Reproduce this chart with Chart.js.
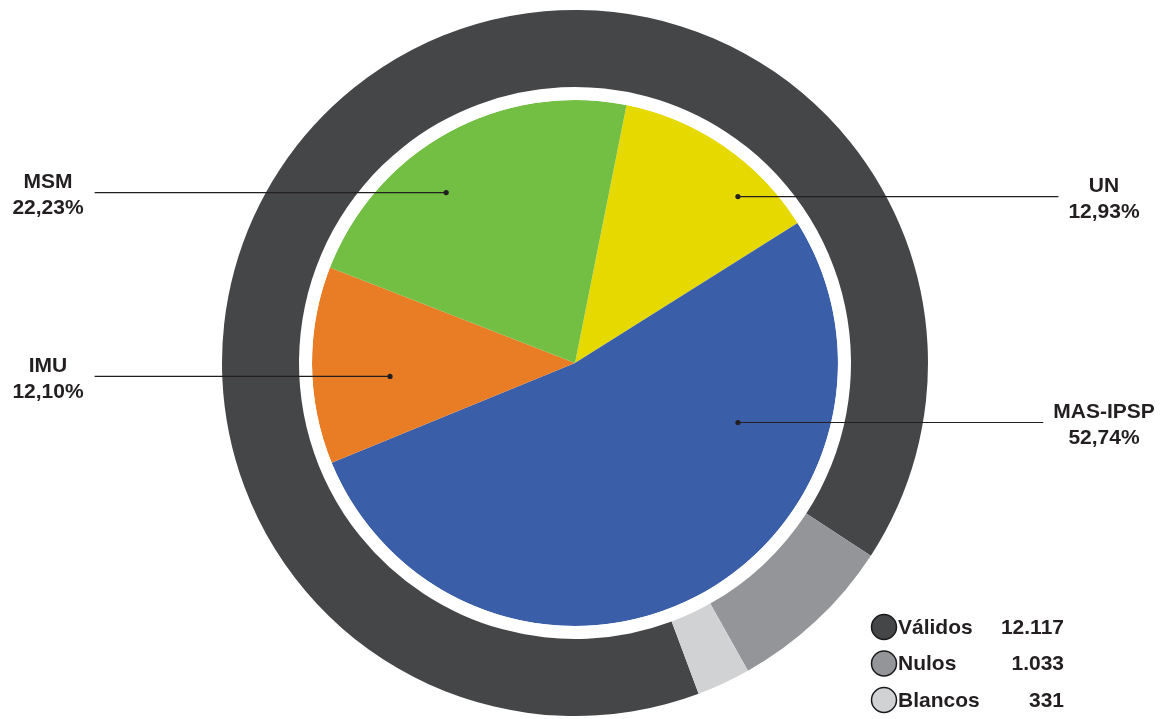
<!DOCTYPE html>
<html>
<head>
<meta charset="utf-8">
<script src="https://cdn.jsdelivr.net/npm/chart.js@4"></script>
<style>
  html, body { margin: 0; padding: 0; background: #fff; }
  #wrap { width: 1165px; height: 719px; }
</style>
</head>
<body>
<div id="wrap"><canvas id="votos" width="1165" height="719"></canvas></div>
<script>
// votos emitidos (anillo exterior)
const tipos = ['Válidos', 'Nulos', 'Blancos'];
const votos = [12117, 1033, 331];
const votosLabels = ['12.117', '1.033', '331'];
const coloresTipo = ['#454648', '#939598', '#d1d2d4'];

// votos válidos por partido (torta interior)
const partidos = ['UN', 'MAS-IPSP', 'IMU', 'MSM'];
const porcentajes = [12.93, 52.74, 12.10, 22.23];
const coloresPartido = ['#e5d900', '#3a5ea7', '#e87d25', '#72bf44'];

// where the callout dot sits inside each slice: angle (deg from top) and radius fraction
const calloutPos = [[44.3, 0.887], [109.9, 0.659], [266, 0.705], [323, 0.814]];
const calloutSide = ['right', 'right', 'left', 'left'];

const FONT = '"Liberation Sans", Arial, sans-serif';
const TXT = '#231f20';

const callouts = {
    id: 'callouts',
    afterDraw(chart) {
        const ctx = chart.ctx;
        const meta = chart.getDatasetMeta(2);
        ctx.save();
        ctx.font = 'bold 21px ' + FONT;
        ctx.textAlign = 'center';
        meta.data.forEach((arc, i) => {
            const a = calloutPos[i][0] * Math.PI / 180;
            const r = arc.outerRadius * calloutPos[i][1];
            const dx = arc.x + Math.sin(a) * r;
            const dy = arc.y - Math.cos(a) * r;
            const name = partidos[i];
            const pct = porcentajes[i].toFixed(2).replace('.', ',') + '%';
            const w = Math.max(ctx.measureText(name).width, ctx.measureText(pct).width);
            const cx = calloutSide[i] === 'left' ? 48 : 1104;
            const lineEnd = calloutSide[i] === 'left' ? cx + w / 2 + 11 : cx - w / 2 - 10;

            ctx.strokeStyle = TXT;
            ctx.lineWidth = 1.2;
            ctx.beginPath();
            ctx.moveTo(dx, dy + 0.5);
            ctx.lineTo(lineEnd, dy + 0.5);
            ctx.stroke();
            ctx.fillStyle = TXT;
            ctx.beginPath();
            ctx.arc(dx, dy + 0.5, 2.6, 0, Math.PI * 2);
            ctx.fill();

            ctx.fillText(name, cx, dy - 4);
            ctx.fillText(pct, cx, dy + 22);
        });
        ctx.restore();
    }
};

const leyenda = {
    id: 'leyenda',
    afterDraw(chart) {
        const ctx = chart.ctx;
        ctx.save();
        ctx.font = 'bold 21px ' + FONT;
        tipos.forEach((t, i) => {
            const y = 627 + i * 36.5;
            ctx.beginPath();
            ctx.arc(884, y, 12.5, 0, Math.PI * 2);
            ctx.fillStyle = coloresTipo[i];
            ctx.fill();
            ctx.lineWidth = 1.5;
            ctx.strokeStyle = '#1a1a1a';
            ctx.stroke();
            ctx.fillStyle = TXT;
            ctx.textBaseline = 'middle';
            ctx.textAlign = 'left';
            ctx.fillText(t, 898, y + 1);
            ctx.textAlign = 'right';
            ctx.fillText(votosLabels[i], 1064, y + 1);
        });
        ctx.restore();
    }
};

new Chart(document.getElementById('votos').getContext('2d'), {
    type: 'doughnut',
    data: {
        labels: tipos,
        datasets: [
            {
                data: votos,
                backgroundColor: coloresTipo,
                borderWidth: 0,
                rotation: 159.5,
                weight: 77
            },
            {
                // white gap between ring and pie
                data: [1],
                backgroundColor: ['#ffffff'],
                borderWidth: 0,
                weight: 13
            },
            {
                data: porcentajes,
                backgroundColor: coloresPartido,
                borderWidth: 0,
                rotation: 11.3,
                weight: 263
            }
        ]
    },
    options: {
        responsive: false,
        animation: false,
        events: [],
        cutout: 0,
        layout: { padding: { left: 0, right: 15, top: 10, bottom: 3 } },
        plugins: {
            legend: { display: false },
            tooltip: { enabled: false }
        }
    },
    plugins: [callouts, leyenda]
});
</script>
</body>
</html>
